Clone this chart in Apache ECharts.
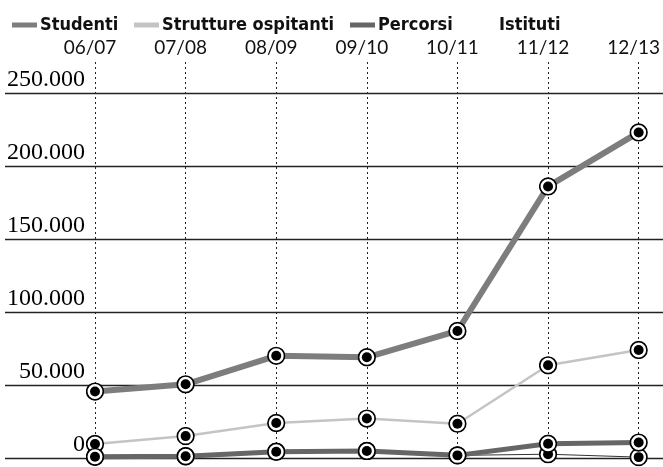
<!DOCTYPE html>
<html><head><meta charset="utf-8">
<script src="https://cdn.jsdelivr.net/npm/echarts@6/dist/echarts.min.js"></script>
<style>html,body{margin:0;padding:0;background:#fff}#c{width:663px;height:467px}</style>
</head><body><div id="c"></div>
<script>
const categories = ['06/07','07/08','08/09','09/10','10/11','11/12','12/13'];
const studenti   = [45500, 50500, 70000, 69000, 87000, 186000, 223000];
const strutture  = [9600, 15000, 24000, 27000, 23500, 63500, 74000];
const percorsi   = [800, 1200, 4300, 4800, 1800, 9800, 10600];
const istituti   = [800, 1200, 4300, 4800, 1800, 2600, 600];
const yTicks = [0, 50000, 100000, 150000, 200000, 250000];

const svg = "<svg xmlns='http://www.w3.org/2000/svg' width='40' height='40'><circle cx='20' cy='20' r='17.5' fill='white' stroke='black' stroke-width='3.5'/><circle cx='20' cy='20' r='10.5' fill='black'/></svg>";
const marker = 'image://data:image/svg+xml;charset=utf-8,' + encodeURIComponent(svg);

const fmt = v => v === 0 ? '0' : String(v).replace(/\B(?=(\d{3})+(?!\d))/g, '.');

const chart = echarts.init(document.getElementById('c'));
function ser(name, data, color, width, z) {
  return {name, type:'line', data, xAxisIndex:0, yAxisIndex:0, clip:false,
    symbol: marker, symbolSize: 19, showSymbol: true, z,
    itemStyle:{color}, lineStyle:{color, width}, emphasis:{disabled:true}, animation:false};
}
const legTxt = {fontFamily:'Liberation Sans Narrow, DejaVu Sans Condensed, sans-serif', fontWeight:'bold', fontSize:18, color:'#111', padding:[0,0,0,-2]};
function leg(item, left) {
  return {left, top:11, itemWidth:25, itemHeight:5, icon:'rect', textStyle:legTxt, data:[item], selectedMode:false};
}
chart.setOption({
  animation:false,
  legend:[
    leg('Studenti', 7),
    leg('Strutture ospitanti', 129),
    leg('Percorsi', 345),
    leg({name:'Istituti', icon:'none'}, 466)
  ],
  grid:[
    {left:95, right:12, top:62, bottom:9},
    {left:5, right:0, top:93, bottom:9}
  ],
  xAxis:[
    {type:'category', gridIndex:0, data:categories, position:'top', boundaryGap:false,
     axisLine:{show:false}, axisTick:{show:false},
     axisLabel:{fontFamily:'Lato, sans-serif', fontSize:19, color:'#111', margin:5, padding:[0,10,0,0]},
     splitLine:{show:true, lineStyle:{color:'#222', type:[2,3], width:1}}},
    {type:'value', gridIndex:1, min:0, max:1, show:false}
  ],
  yAxis:[
    {type:'value', gridIndex:0, min:0, max:271233, show:false, splitLine:{show:false}},
    {type:'value', gridIndex:1, min:0, max:250000, interval:50000,
     axisLine:{show:false}, axisTick:{show:false},
     axisLabel:{inside:true, align:'right', margin:80, verticalAlign:'bottom', padding:[0,0,1,0],
       fontFamily:'Liberation Serif, serif', fontSize:24, color:'#000', formatter: fmt},
     splitLine:{show:true, lineStyle:{color:'#222', width:1.3}}}
  ],
  series:[
    ser('Istituti', istituti, '#333', 1, 2),
    ser('Strutture ospitanti', strutture, '#c4c4c4', 2.5, 3),
    ser('Percorsi', percorsi, '#666', 5, 4),
    ser('Studenti', studenti, '#7d7d7d', 6, 5)
  ]
});
</script></body></html>
